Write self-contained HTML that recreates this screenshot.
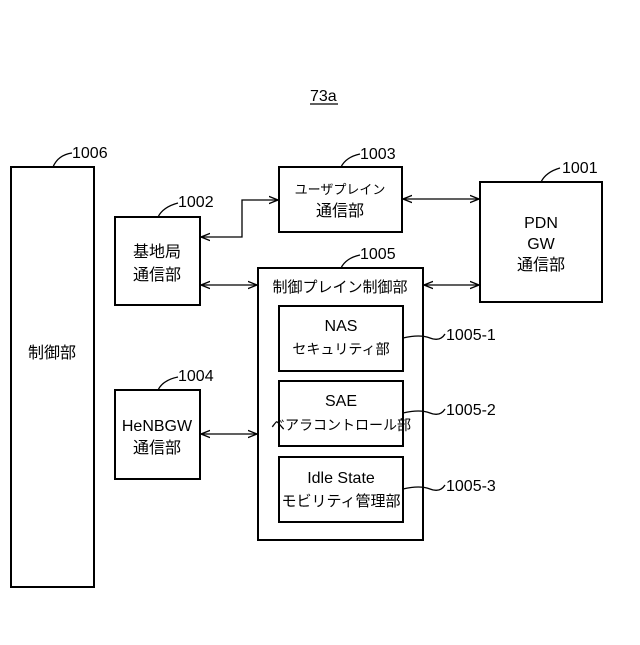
<!DOCTYPE html>
<html><head><meta charset="utf-8"><style>
body{margin:0;background:#fff}
svg text{font-family:"Liberation Sans","Noto Sans CJK JP",sans-serif;fill:#000}
</style></head><body>
<svg width="640" height="640" viewBox="0 0 640 640" xmlns="http://www.w3.org/2000/svg">
<defs><marker id="a" viewBox="0 0 10 10" refX="10" refY="5" markerWidth="7" markerHeight="7" orient="auto-start-reverse"><path d="M0,1 L10,5 L0,9" fill="none" stroke="#000" stroke-width="1.5"/></marker></defs>
<g fill="none" stroke="#000" stroke-width="2">
<rect x="11" y="167" width="83" height="420"/>
<rect x="115" y="217" width="85" height="88"/>
<rect x="279" y="167" width="123" height="65"/>
<rect x="480" y="182" width="122" height="120"/>
<rect x="258" y="268" width="165" height="272"/>
<rect x="279" y="306" width="124" height="65"/>
<rect x="279" y="381" width="124" height="65"/>
<rect x="279" y="457" width="124" height="65"/>
<rect x="115" y="390" width="85" height="89"/>
</g>
<g fill="none" stroke="#000" stroke-width="1.3">
<polyline points="201,237 242,237 242,200 278,200" marker-start="url(#a)" marker-end="url(#a)"/>
<line x1="403" y1="199" x2="479" y2="199" marker-start="url(#a)" marker-end="url(#a)"/>
<line x1="201" y1="285" x2="257" y2="285" marker-start="url(#a)" marker-end="url(#a)"/>
<line x1="424" y1="285" x2="479" y2="285" marker-start="url(#a)" marker-end="url(#a)"/>
<line x1="201" y1="434" x2="257" y2="434" marker-start="url(#a)" marker-end="url(#a)"/>
<path d="M53,167 Q58,155 72,153"/>
<path d="M158,217 Q163,207 178,203"/>
<path d="M158,390 Q163,380 178,377"/>
<path d="M341,167 Q346,157 360,154"/>
<path d="M541,182 Q546,172 560,168"/>
<path d="M341,268 Q346,258 360,255"/>
<path d="M403,338 Q420,334 430,338 T445,334"/>
<path d="M403,413 Q420,409 430,413 T445,409"/>
<path d="M403,489 Q420,485 430,489 T445,485"/>
<line x1="310" y1="104" x2="338" y2="104"/>
</g>
<g font-size="16">
<text x="310" y="101">73a</text>
<text x="72" y="158">1006</text>
<text x="178" y="207">1002</text>
<text x="360" y="159">1003</text>
<text x="562" y="173">1001</text>
<text x="360" y="259">1005</text>
<text x="178" y="381">1004</text>
<text x="446" y="340">1005-1</text>
<text x="446" y="415">1005-2</text>
<text x="446" y="491">1005-3</text>
</g>
<g font-size="16" text-anchor="middle">
<text x="52" y="358">制御部</text>
<text x="157" y="257">基地局</text>
<text x="157" y="280">通信部</text>
<text x="340" y="194" font-size="13">ユーザプレイン</text>
<text x="340" y="216">通信部</text>
<text x="541" y="228">PDN</text>
<text x="541" y="249">GW</text>
<text x="541" y="270">通信部</text>
<text x="340" y="292" font-size="15">制御プレイン制御部</text>
<text x="341" y="331">NAS</text>
<text x="341" y="354" font-size="14">セキュリティ部</text>
<text x="341" y="406">SAE</text>
<text x="341" y="430" font-size="14">ベアラコントロール部</text>
<text x="341" y="483" font-family="Liberation Mono,monospace">Idle State</text>
<text x="341" y="506" font-size="15">モビリティ管理部</text>
<text x="157" y="431">HeNBGW</text>
<text x="157" y="453">通信部</text>
</g>
</svg>
</body></html>
